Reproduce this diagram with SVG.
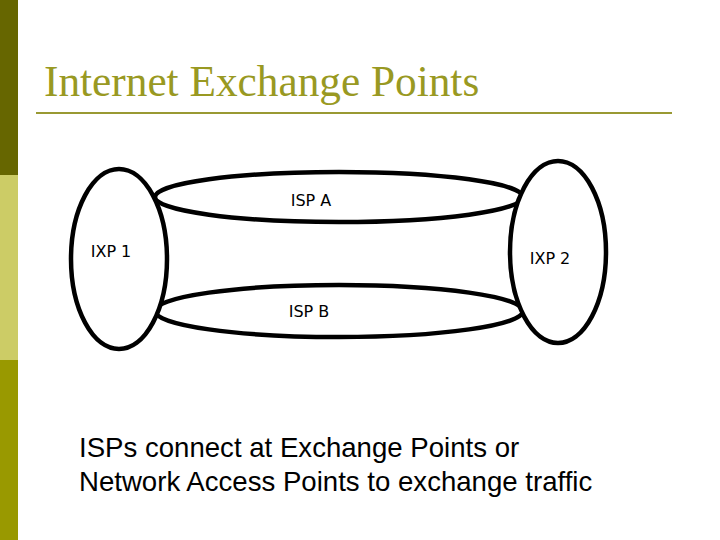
<svg xmlns="http://www.w3.org/2000/svg" width="720" height="540" viewBox="0 0 720 540">
<style>
.node{fill:#ffffff;stroke:#000000;stroke-width:4.5}
.lbl{font-family:"DejaVu Sans",Verdana,sans-serif;font-size:16px;fill:#000000;text-anchor:middle}
.body{font-family:"Liberation Sans",Arial,sans-serif;font-size:27.6px;fill:#000000}
</style>
<rect x="0" y="0" width="720" height="540" fill="#ffffff"/>
<rect x="0" y="0" width="18" height="175" fill="#666600"/>
<rect x="0" y="175" width="18" height="185" fill="#cccc66"/>
<rect x="0" y="360" width="18" height="180" fill="#999900"/>
<text x="44" y="96" font-family="Liberation Serif,'Times New Roman',serif" font-size="43.3" fill="#999922">Internet Exchange Points</text>
<line x1="36" y1="113" x2="672" y2="113" stroke="#999933" stroke-width="2"/>
<g id="connectors">
<g id="ispA"><ellipse class="node" cx="339" cy="197" rx="184" ry="25"/><text class="lbl" x="311" y="206">ISP A</text></g>
<g id="ispB"><ellipse class="node" cx="339" cy="311" rx="184" ry="26"/><text class="lbl" x="309" y="317">ISP B</text></g>
</g>
<g id="ixp1"><ellipse class="node" cx="119" cy="259" rx="48" ry="90"/><text class="lbl" x="111" y="257">IXP 1</text></g>
<g id="ixp2"><ellipse class="node" cx="558" cy="252" rx="48" ry="91"/><text class="lbl" x="550" y="264">IXP 2</text></g>
<text class="body" x="79" y="457">ISPs connect at Exchange Points or</text>
<text class="body" x="79" y="491">Network Access Points to exchange traffic</text>
</svg>
